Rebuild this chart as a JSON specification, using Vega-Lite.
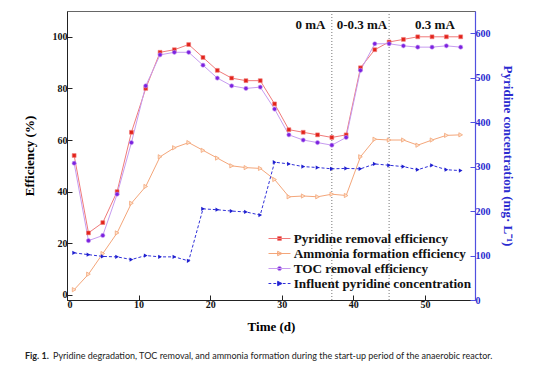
{
  "$schema": "https://vega.github.io/schema/vega-lite/v6.json",
  "width": 408,
  "height": 289,
  "autosize": {"type": "none"},
  "padding": {"left": 67, "top": 11, "right": 79, "bottom": 81},
  "background": "white",
  "config": {
    "view": {"stroke": "#666666", "strokeWidth": 1},
    "font": "Liberation Serif",
    "axis": {"labelFont": "Liberation Serif", "titleFont": "Liberation Serif", "labelFontWeight": "bold", "titleFontWeight": "bold", "grid": false}
  },
  "title": {
    "text": "Fig. 1.",
    "subtitle": "Pyridine degradation, TOC removal, and ammonia formation during the start-up period of the anaerobic reactor.",
    "orient": "bottom",
    "anchor": "start",
    "frame": "group",
    "dx": -42,
    "offset": 19,
    "font": "Lato",
    "fontSize": 9,
    "fontWeight": "bold",
    "color": "#222222",
    "subtitleFont": "Lato",
    "subtitleFontSize": 9,
    "subtitleFontWeight": "normal",
    "subtitleColor": "#222222",
    "subtitlePadding": -9,
    "encode": {"subtitle": {"update": {"dx": {"value": -14}}}}
  },
  "datasets": {
    "eff": [
      {"day":1,"series":"Pyridine removal efficiency","value":54},{"day":3,"series":"Pyridine removal efficiency","value":24},{"day":5,"series":"Pyridine removal efficiency","value":28},{"day":7,"series":"Pyridine removal efficiency","value":40},{"day":9,"series":"Pyridine removal efficiency","value":63},{"day":11,"series":"Pyridine removal efficiency","value":80},{"day":13,"series":"Pyridine removal efficiency","value":94},{"day":15,"series":"Pyridine removal efficiency","value":95},{"day":17,"series":"Pyridine removal efficiency","value":97},{"day":19,"series":"Pyridine removal efficiency","value":92},{"day":21,"series":"Pyridine removal efficiency","value":87},{"day":23,"series":"Pyridine removal efficiency","value":84},{"day":25,"series":"Pyridine removal efficiency","value":83},{"day":27,"series":"Pyridine removal efficiency","value":83},{"day":29,"series":"Pyridine removal efficiency","value":74},{"day":31,"series":"Pyridine removal efficiency","value":64},{"day":33,"series":"Pyridine removal efficiency","value":63},{"day":35,"series":"Pyridine removal efficiency","value":62},{"day":37,"series":"Pyridine removal efficiency","value":61},{"day":39,"series":"Pyridine removal efficiency","value":62},{"day":41,"series":"Pyridine removal efficiency","value":88},{"day":43,"series":"Pyridine removal efficiency","value":95},{"day":45,"series":"Pyridine removal efficiency","value":98},{"day":47,"series":"Pyridine removal efficiency","value":99},{"day":49,"series":"Pyridine removal efficiency","value":100},{"day":51,"series":"Pyridine removal efficiency","value":100},{"day":53,"series":"Pyridine removal efficiency","value":100},{"day":55,"series":"Pyridine removal efficiency","value":100},
      {"day":1,"series":"Ammonia formation efficiency","value":2},{"day":3,"series":"Ammonia formation efficiency","value":8},{"day":5,"series":"Ammonia formation efficiency","value":16},{"day":7,"series":"Ammonia formation efficiency","value":24},{"day":9,"series":"Ammonia formation efficiency","value":35.5},{"day":11,"series":"Ammonia formation efficiency","value":42},{"day":13,"series":"Ammonia formation efficiency","value":53.5},{"day":15,"series":"Ammonia formation efficiency","value":57},{"day":17,"series":"Ammonia formation efficiency","value":59},{"day":19,"series":"Ammonia formation efficiency","value":56},{"day":21,"series":"Ammonia formation efficiency","value":53},{"day":23,"series":"Ammonia formation efficiency","value":50},{"day":25,"series":"Ammonia formation efficiency","value":49.3},{"day":27,"series":"Ammonia formation efficiency","value":49},{"day":29,"series":"Ammonia formation efficiency","value":44.7},{"day":31,"series":"Ammonia formation efficiency","value":38},{"day":33,"series":"Ammonia formation efficiency","value":38.3},{"day":35,"series":"Ammonia formation efficiency","value":38},{"day":37,"series":"Ammonia formation efficiency","value":39},{"day":39,"series":"Ammonia formation efficiency","value":38.5},{"day":41,"series":"Ammonia formation efficiency","value":53.5},{"day":43,"series":"Ammonia formation efficiency","value":60.3},{"day":45,"series":"Ammonia formation efficiency","value":60},{"day":47,"series":"Ammonia formation efficiency","value":60},{"day":49,"series":"Ammonia formation efficiency","value":58},{"day":51,"series":"Ammonia formation efficiency","value":60},{"day":53,"series":"Ammonia formation efficiency","value":61.8},{"day":55,"series":"Ammonia formation efficiency","value":62},
      {"day":1,"series":"TOC removal efficiency","value":51},{"day":3,"series":"TOC removal efficiency","value":21},{"day":5,"series":"TOC removal efficiency","value":23},{"day":7,"series":"TOC removal efficiency","value":39},{"day":9,"series":"TOC removal efficiency","value":59},{"day":11,"series":"TOC removal efficiency","value":81},{"day":13,"series":"TOC removal efficiency","value":93},{"day":15,"series":"TOC removal efficiency","value":94},{"day":17,"series":"TOC removal efficiency","value":94},{"day":19,"series":"TOC removal efficiency","value":89},{"day":21,"series":"TOC removal efficiency","value":84},{"day":23,"series":"TOC removal efficiency","value":81},{"day":25,"series":"TOC removal efficiency","value":80},{"day":27,"series":"TOC removal efficiency","value":80.5},{"day":29,"series":"TOC removal efficiency","value":72},{"day":31,"series":"TOC removal efficiency","value":62},{"day":33,"series":"TOC removal efficiency","value":60},{"day":35,"series":"TOC removal efficiency","value":59},{"day":37,"series":"TOC removal efficiency","value":58},{"day":39,"series":"TOC removal efficiency","value":61},{"day":41,"series":"TOC removal efficiency","value":87},{"day":43,"series":"TOC removal efficiency","value":97.3},{"day":45,"series":"TOC removal efficiency","value":97.3},{"day":47,"series":"TOC removal efficiency","value":96.5},{"day":49,"series":"TOC removal efficiency","value":96},{"day":51,"series":"TOC removal efficiency","value":96},{"day":53,"series":"TOC removal efficiency","value":96.5},{"day":55,"series":"TOC removal efficiency","value":96}
    ],
    "inf": [
      {"day":1,"series":"Influent pyridine concentration","conc":106},{"day":3,"series":"Influent pyridine concentration","conc":102},{"day":5,"series":"Influent pyridine concentration","conc":98},{"day":7,"series":"Influent pyridine concentration","conc":97},{"day":9,"series":"Influent pyridine concentration","conc":91},{"day":11,"series":"Influent pyridine concentration","conc":100},{"day":13,"series":"Influent pyridine concentration","conc":97},{"day":15,"series":"Influent pyridine concentration","conc":97},{"day":17,"series":"Influent pyridine concentration","conc":88},{"day":19,"series":"Influent pyridine concentration","conc":205},{"day":21,"series":"Influent pyridine concentration","conc":203},{"day":23,"series":"Influent pyridine concentration","conc":200},{"day":25,"series":"Influent pyridine concentration","conc":198},{"day":27,"series":"Influent pyridine concentration","conc":191},{"day":29,"series":"Influent pyridine concentration","conc":310},{"day":31,"series":"Influent pyridine concentration","conc":306},{"day":33,"series":"Influent pyridine concentration","conc":300},{"day":35,"series":"Influent pyridine concentration","conc":298},{"day":37,"series":"Influent pyridine concentration","conc":295},{"day":39,"series":"Influent pyridine concentration","conc":296},{"day":41,"series":"Influent pyridine concentration","conc":295},{"day":43,"series":"Influent pyridine concentration","conc":306},{"day":45,"series":"Influent pyridine concentration","conc":303},{"day":47,"series":"Influent pyridine concentration","conc":300},{"day":49,"series":"Influent pyridine concentration","conc":293},{"day":51,"series":"Influent pyridine concentration","conc":303},{"day":53,"series":"Influent pyridine concentration","conc":293},{"day":55,"series":"Influent pyridine concentration","conc":291}
    ],
    "phases": [
      {"day":34,"level":104.5,"label":"0 mA"},
      {"day":41.2,"level":104.5,"label":"0-0.3 mA"},
      {"day":51.4,"level":104.5,"label":"0.3 mA"}
    ],
    "bounds": [{"day":37},{"day":45}]
  },
  "layer": [
    {
      "layer": [
        {
          "data": {"name": "bounds"},
          "mark": {"type": "rule", "color": "#777777", "strokeDash": [1, 2], "strokeWidth": 1},
          "encoding": {"x": {"field": "day", "type": "quantitative", "scale": {"domain": [0, 57]}}}
        },
        {
          "data": {"name": "phases"},
          "mark": {"type": "text", "font": "Liberation Serif", "fontWeight": "bold", "fontSize": 13, "color": "#111111"},
          "encoding": {
            "x": {"field": "day", "type": "quantitative"},
            "y": {"field": "level", "type": "quantitative"},
            "text": {"field": "label"}
          }
        },
        {
          "data": {"name": "eff"},
          "mark": {"type": "line", "strokeWidth": 1},
          "encoding": {
            "x": {"field": "day", "type": "quantitative"},
            "y": {"field": "value", "type": "quantitative"},
            "detail": {"field": "series"},
            "stroke": {
              "field": "series", "type": "nominal",
              "scale": {
                "domain": ["Pyridine removal efficiency", "Ammonia formation efficiency", "TOC removal efficiency", "Influent pyridine concentration"],
                "range": ["#f07a7a", "#f4a67a", "#c79cf0", "#3030d8"]
              }
            }
          }
        },
        {
          "data": {"name": "eff"},
          "transform": [{"filter": "datum.day < 0"}],
          "mark": {"type": "point", "filled": true, "strokeWidth": 1, "opacity": 1},
          "encoding": {
            "x": {"field": "day", "type": "quantitative"},
            "y": {"field": "value", "type": "quantitative"},
            "fill": {"field": "series", "type": "nominal"},
            "stroke": {"field": "series", "type": "nominal"},
            "shape": {
              "field": "series", "type": "nominal",
              "scale": {
                "domain": ["Pyridine removal efficiency", "Ammonia formation efficiency", "TOC removal efficiency", "Influent pyridine concentration"],
                "range": [
                  "M-1.375,0H1.375M-0.234,-0.234H0.234V0.234H-0.234Z",
                  "M-1.375,0H1.375M-0.234,-0.275L0.316,0L-0.234,0.275Z",
                  "M-1.375,0H1.375M-0.26,0A0.26,0.26,0,1,0,0.26,0A0.26,0.26,0,1,0,-0.26,0Z",
                  "M-1.375,0H-1.03M-0.76,0H-0.41M0.41,0H0.76M1.03,0H1.375M-0.234,-0.275L0.316,0L-0.234,0.275Z"
                ]
              },
              "legend": {
                "orient": "none", "legendX": 204, "legendY": 219,
                "title": null, "labelFont": "Liberation Serif", "labelFontWeight": "bold", "labelFontSize": 13.2, "labelColor": "#111111",
                "labelLimit": 400, "symbolSize": 256, "symbolStrokeWidth": 1, "labelOffset": 5.7, "rowPadding": 0, "padding": 0
              }
            }
          }
        },
        {
          "data": {"name": "eff"},
          "transform": [{"filter": "datum.series === 'Pyridine removal efficiency'"}],
          "mark": {"type": "point", "shape": "square", "filled": true, "strokeWidth": 0.6, "size": 15, "opacity": 1},
          "encoding": {
            "x": {"field": "day", "type": "quantitative"},
            "y": {"field": "value", "type": "quantitative"},
            "fill": {"field": "series", "type": "nominal"},
            "stroke": {"field": "series", "type": "nominal"}
          }
        },
        {
          "data": {"name": "eff"},
          "transform": [{"filter": "datum.series === 'Ammonia formation efficiency'"}],
          "mark": {"type": "point", "shape": "triangle-right", "filled": true, "strokeWidth": 0.8, "size": 18, "opacity": 1},
          "encoding": {
            "x": {"field": "day", "type": "quantitative"},
            "y": {"field": "value", "type": "quantitative"},
            "fill": {"field": "series", "type": "nominal"},
            "stroke": {"field": "series", "type": "nominal"}
          }
        },
        {
          "data": {"name": "eff"},
          "transform": [{"filter": "datum.series === 'TOC removal efficiency'"}],
          "mark": {"type": "point", "shape": "circle", "filled": true, "strokeWidth": 0.6, "size": 18, "opacity": 1},
          "encoding": {
            "x": {
              "field": "day", "type": "quantitative",
              "scale": {"domain": [0, 57], "nice": false},
              "axis": {
                "values": [0, 5, 10, 15, 20, 25, 30, 35, 40, 45, 50, 55],
                "labelExpr": "datum.value % 10 === 0 ? datum.label : ''",
                "tickSize": {"expr": "datum.value % 10 === 0 ? -5 : -3"},
                "title": "Time (d)", "titleFontSize": 13, "titlePadding": 11,
                "labelFontSize": 10, "labelPadding": 4, "labelColor": "#111111",
                "domainColor": "#222222", "tickColor": "#222222"
              }
            },
            "y": {
              "field": "value", "type": "quantitative",
              "scale": {"domain": [-2, 110], "nice": false, "zero": false},
              "axis": {
                "values": [0, 10, 20, 30, 40, 50, 60, 70, 80, 90, 100],
                "labelExpr": "datum.value % 20 === 0 ? datum.label : ''",
                "tickSize": {"expr": "datum.value % 20 === 0 ? -5 : -3"},
                "title": "Efficiency (%)", "titleFontSize": 13, "titlePadding": 16,
                "labelFontSize": 10, "labelPadding": 5, "labelColor": "#111111",
                "domainColor": "#222222", "tickColor": "#222222"
              }
            },
            "fill": {
              "field": "series", "type": "nominal",
              "scale": {
                "domain": ["Pyridine removal efficiency", "Ammonia formation efficiency", "TOC removal efficiency", "Influent pyridine concentration"],
                "range": ["#e2231a", "#fde3cc", "#7b22e0", "#1f1fd0"]
              }
            },
            "stroke": {"field": "series", "type": "nominal"}
          }
        }
      ]
    },
    {
      "data": {"name": "inf"},
      "layer": [
        {
          "mark": {"type": "line", "strokeWidth": 1, "strokeDash": [3, 2]},
          "encoding": {
            "x": {"field": "day", "type": "quantitative"},
            "y": {"field": "conc", "type": "quantitative"},
            "stroke": {"field": "series", "type": "nominal"}
          }
        },
        {
          "mark": {"type": "point", "filled": true, "shape": "triangle-right", "size": 18, "opacity": 1},
          "encoding": {
            "x": {"field": "day", "type": "quantitative"},
            "y": {
              "field": "conc", "type": "quantitative",
              "scale": {"domain": [0, 650], "nice": false},
              "axis": {
                "orient": "right",
                "values": [0, 50, 100, 150, 200, 250, 300, 350, 400, 450, 500, 550, 600],
                "labelExpr": "datum.value % 100 === 0 ? datum.label : ''",
                "tickSize": {"expr": "datum.value % 100 === 0 ? -5 : -3"},
                "title": "Pyridine concentration (mg· L⁻¹)", "titleFontSize": 13, "titlePadding": 10,
                "titleColor": "#2a2ad0", "labelColor": "#2a2ad0", "labelFontSize": 10, "labelPadding": 5,
                "domainColor": "#5050e0", "tickColor": "#5050e0", "domainWidth": 1.2
              }
            },
            "fill": {"field": "series", "type": "nominal"}
          }
        }
      ]
    }
  ],
  "resolve": {"scale": {"y": "independent"}}
}
